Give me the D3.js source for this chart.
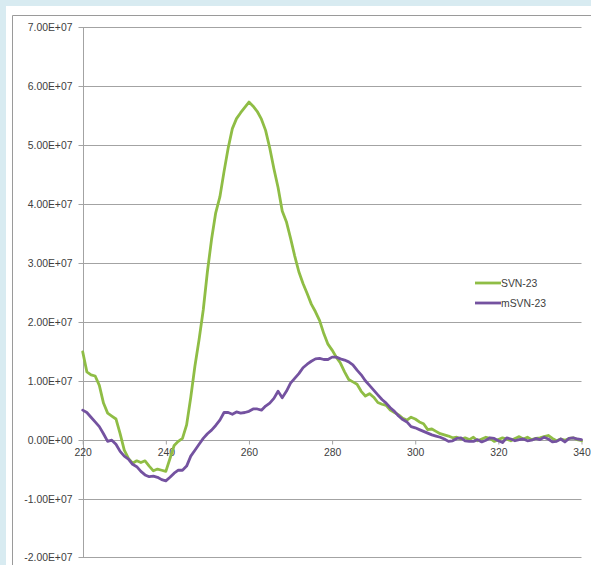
<!DOCTYPE html>
<html><head><meta charset="utf-8">
<script src="https://cdn.jsdelivr.net/npm/d3@7"></script>
<style>
html,body{margin:0;padding:0;background:#d8ebf1;}
svg{display:block;}
</style></head>
<body>
<script>
const wavelengths = d3.range(220, 341, 1);
const svn23 = [
1.49e7,1.15e7,1.10e7,1.08e7,0.92e7,0.62e7,0.45e7,0.40e7,0.35e7,0.10e7,
-0.18e7,-0.32e7,-0.40e7,-0.36e7,-0.39e7,-0.36e7,-0.45e7,-0.53e7,-0.50e7,-0.52e7,
-0.54e7,-0.32e7,-0.10e7,-0.03e7,0.02e7,0.25e7,0.72e7,1.25e7,1.70e7,2.20e7,
2.85e7,3.40e7,3.85e7,4.12e7,4.55e7,4.95e7,5.28e7,5.45e7,5.55e7,5.64e7,
5.73e7,5.66e7,5.57e7,5.44e7,5.25e7,4.95e7,4.60e7,4.28e7,3.88e7,3.70e7,
3.42e7,3.12e7,2.85e7,2.65e7,2.48e7,2.30e7,2.17e7,2.02e7,1.80e7,1.62e7,
1.52e7,1.40e7,1.30e7,1.15e7,1.02e7,0.98e7,0.94e7,0.82e7,0.74e7,0.78e7,
0.72e7,0.63e7,0.60e7,0.58e7,0.50e7,0.46e7,0.42e7,0.36e7,0.33e7,0.38e7,
0.35e7,0.30e7,0.27e7,0.17e7,0.18e7,0.14e7,0.10e7,0.08e7,0.06e7,0.03e7,
0.04e7,0.01e7,0.03e7,0.00e7,0.04e7,-0.02e7,0.01e7,0.04e7,0.02e7,-0.03e7,
0.00e7,0.03e7,0.01e7,-0.02e7,0.02e7,0.05e7,0.01e7,0.04e7,0.00e7,0.02e7,
0.03e7,0.05e7,0.07e7,0.02e7,-0.02e7,0.01e7,-0.01e7,0.02e7,0.03e7,0.00e7,
-0.02e7];
const msvn23 = [
0.50e7,0.46e7,0.38e7,0.30e7,0.22e7,0.10e7,-0.03e7,-0.01e7,-0.08e7,-0.20e7,
-0.28e7,-0.33e7,-0.42e7,-0.46e7,-0.54e7,-0.60e7,-0.63e7,-0.62e7,-0.64e7,-0.68e7,
-0.70e7,-0.64e7,-0.57e7,-0.52e7,-0.52e7,-0.45e7,-0.28e7,-0.18e7,-0.08e7,0.02e7,
0.10e7,0.16e7,0.24e7,0.33e7,0.46e7,0.46e7,0.43e7,0.47e7,0.45e7,0.46e7,
0.48e7,0.52e7,0.52e7,0.50e7,0.57e7,0.62e7,0.70e7,0.82e7,0.71e7,0.82e7,
0.96e7,1.04e7,1.12e7,1.22e7,1.28e7,1.33e7,1.37e7,1.38e7,1.36e7,1.36e7,
1.40e7,1.40e7,1.37e7,1.35e7,1.32e7,1.27e7,1.18e7,1.10e7,1.00e7,0.92e7,
0.84e7,0.76e7,0.68e7,0.62e7,0.54e7,0.48e7,0.40e7,0.34e7,0.30e7,0.22e7,
0.20e7,0.17e7,0.14e7,0.11e7,0.08e7,0.06e7,0.04e7,0.01e7,-0.03e7,-0.02e7,
0.02e7,0.03e7,-0.02e7,-0.03e7,-0.03e7,0.00e7,-0.04e7,-0.01e7,0.03e7,0.02e7,
-0.02e7,-0.05e7,0.03e7,0.01e7,-0.02e7,0.00e7,0.01e7,-0.02e7,-0.01e7,0.02e7,
0.00e7,0.04e7,0.01e7,-0.04e7,-0.03e7,0.01e7,-0.04e7,0.02e7,0.03e7,0.01e7,
0.00e7];
const yTickValues = [-2e7,-1e7,0,1e7,2e7,3e7,4e7,5e7,6e7,7e7];
const yTickLabels = ["-2.00E+07","-1.00E+07","0.00E+00","1.00E+07","2.00E+07","3.00E+07","4.00E+07","5.00E+07","6.00E+07","7.00E+07"];
const xTickValues = [220,240,260,280,300,320,340];
const xTickLabels = ["220","240","260","280","300","320","340"];
const seriesNames = ["SVN-23","mSVN-23"];
const seriesColors = ["#8fbd45","#7452a0"];

const W = 591, H = 565;
const svg = d3.select("body").append("svg").attr("width", W).attr("height", H);
svg.append("rect").attr("x",6).attr("y",6).attr("width",W-6).attr("height",H-6).attr("fill","#ffffff");
svg.append("path").attr("d","M12.5,565 V15.5 H591").attr("fill","none").attr("stroke","#9a9a9a").attr("stroke-width",1);

const x = d3.scaleLinear().domain([220,340]).range([82.7,581.5]);
const y = d3.scaleLinear().domain([-2e7,7e7]).range([557.4,27.3]);
const font = "'Liberation Sans', Arial, sans-serif";
const fs = "10.4px";
const grid = "#a3a3a3";

svg.append("g").selectAll("line").data(yTickValues).join("line")
  .attr("x1",x(220)).attr("x2",x(340))
  .attr("y1",d=>Math.round(y(d))+0.5).attr("y2",d=>Math.round(y(d))+0.5)
  .attr("stroke",grid).attr("stroke-width",1);

const yAxis = d3.axisLeft(y).tickValues(yTickValues).tickSize(5).tickPadding(6)
  .tickFormat((d,i)=>yTickLabels[i]);
const gy = svg.append("g").attr("transform",`translate(${Math.round(x(220))+0.5},0)`).call(yAxis);
gy.select(".domain").attr("stroke",grid).attr("d",`M0,${y(7e7)}V${y(-2e7)}`);
gy.selectAll(".tick line").attr("stroke",grid);
gy.selectAll(".tick").attr("transform",d=>`translate(0,${Math.round(y(d))+0.5})`);
gy.selectAll("text").attr("fill","#404040").style("font-family",font).style("font-size",fs);

const xAxis = d3.axisBottom(x).tickValues(xTickValues).tickSize(4).tickPadding(4)
  .tickFormat((d,i)=>xTickLabels[i]);
const gx = svg.append("g").attr("transform",`translate(0,${Math.round(y(0))+0.5})`).call(xAxis);
gx.select(".domain").attr("stroke",grid).attr("d",`M${x(220)},0H${x(340)}`);
gx.selectAll(".tick line").attr("stroke",grid);
gx.selectAll("text").attr("fill","#404040").style("font-family",font).style("font-size",fs);

const series = [svn23, msvn23];
const line = d3.line().x((d,i)=>x(wavelengths[i])).y(d=>y(d)).curve(d3.curveLinear);
series.forEach((s,k)=>{
  svg.append("path").datum(s).attr("d",line).attr("fill","none")
    .attr("stroke",seriesColors[k]).attr("stroke-width",2.8)
    .attr("stroke-linejoin","round").attr("stroke-linecap","round");
});

const lg = svg.append("g");
seriesNames.forEach((n,k)=>{
  const ly = 283 + k*20;
  lg.append("line").attr("x1",475).attr("x2",501).attr("y1",ly).attr("y2",ly)
    .attr("stroke",seriesColors[k]).attr("stroke-width",2.8);
  lg.append("text").attr("x",501).attr("y",ly).attr("dy","0.35em")
    .attr("fill","#404040").style("font-family",font).style("font-size",fs).text(n);
});
</script>
</body></html>
